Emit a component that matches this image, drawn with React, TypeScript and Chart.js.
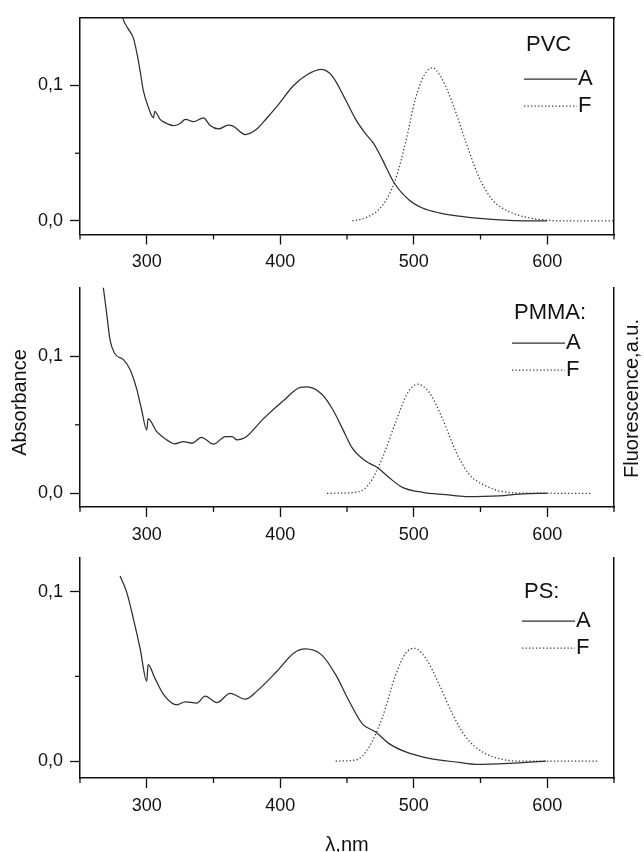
import React, { useEffect, useRef } from 'react';
import { Chart, registerables } from 'chart.js';

Chart.register(...registerables);

// ---------------- data ----------------
const xTickValues = [300, 400, 500, 600];
const xMinorTicks = [250, 350, 450, 550, 650];
const yTickValues = [0, 0.1];
const yMinorTicks = [0.05];

// PVC
const pvcAbsWl = [279, 282, 286, 290, 293, 295, 297.5, 301, 305, 306, 310, 315, 320, 325, 329, 335, 342.5, 347.5, 353.7, 361, 365, 373.7, 382.5, 390, 397.5, 410, 420, 431, 439, 449, 456.5, 464, 470, 476.5, 485, 496.5, 506.5, 519, 534, 551.5, 571.5, 600];
const pvcAbs = [0.165, 0.15, 0.142, 0.135, 0.122, 0.111, 0.096, 0.0846, 0.0762, 0.081, 0.075, 0.072, 0.0703, 0.072, 0.075, 0.0733, 0.0762, 0.0704, 0.0679, 0.0707, 0.0698, 0.0638, 0.0679, 0.076, 0.0846, 0.1, 0.108, 0.112, 0.107, 0.0893, 0.075, 0.0643, 0.0571, 0.0453, 0.0286, 0.0155, 0.0096, 0.006, 0.0036, 0.0017, 0.0005, 0.0];
const pvcFlWl = [454, 464, 476, 486, 494, 501, 508, 514, 520, 529, 539, 549, 559, 571, 586, 601, 615, 650];
const pvcFl = [0, 0.0024, 0.0107, 0.0298, 0.0584, 0.0893, 0.108, 0.113, 0.107, 0.087, 0.0584, 0.032, 0.0155, 0.0071, 0.0024, 0.0005, 0, 0];

// PMMA
const pmmaAbsWl = [266, 267.5, 270, 272.5, 276, 282.5, 287.5, 292.5, 296, 300, 301, 307.5, 315, 321, 327.5, 334, 341, 350, 359, 364, 367.5, 374, 387.5, 402.5, 415, 420, 431, 439, 446.5, 454, 464, 473, 481.5, 491.5, 506.5, 524, 539, 564, 581.5, 600];
const pmmaAbs = [0.16, 0.15, 0.131, 0.112, 0.102, 0.0976, 0.0904, 0.076, 0.0617, 0.0462, 0.0545, 0.045, 0.039, 0.0361, 0.0378, 0.0366, 0.0409, 0.0359, 0.0414, 0.0414, 0.039, 0.0409, 0.0545, 0.0677, 0.0773, 0.0777, 0.0725, 0.0617, 0.0474, 0.033, 0.0235, 0.0187, 0.0115, 0.0043, 0.0007, -0.001, -0.0024, -0.0019, -0.0005, 0];
const pmmaFlWl = [435, 456.5, 466.5, 476.5, 486.5, 495, 502.7, 511.5, 521.5, 531.5, 541.5, 556.5, 565, 580, 633];
const pmmaFl = [0, 0.0007, 0.0067, 0.0258, 0.052, 0.0725, 0.0796, 0.0737, 0.0545, 0.0306, 0.0139, 0.0043, 0.0015, 0.0002, 0];

// PS
const psAbsWl = [280, 285, 290, 295, 300, 301, 306, 312.5, 322.5, 329, 337.5, 343.7, 352.5, 362.5, 373.7, 382.5, 397.5, 410, 418.7, 431, 441.5, 451.5, 461.5, 471.5, 481.5, 494, 511.5, 534, 546.5, 571.5, 599];
const psAbs = [0.1093, 0.0996, 0.084, 0.0666, 0.0472, 0.0569, 0.0491, 0.0394, 0.0332, 0.035, 0.0342, 0.0384, 0.0345, 0.04, 0.0365, 0.0413, 0.053, 0.0637, 0.0662, 0.0627, 0.051, 0.0355, 0.022, 0.0171, 0.0103, 0.0054, 0.0016, -0.0008, -0.0019, -0.0013, 0];
const psFlWl = [441.5, 456.5, 466.5, 476.5, 486.5, 494, 500.3, 509, 519, 529, 539, 551.5, 569, 580, 639];
const psFl = [0, 0.0006, 0.0083, 0.0258, 0.051, 0.0637, 0.0666, 0.0607, 0.0453, 0.0278, 0.0142, 0.0054, 0.0006, 0, 0];

// ---------------- styles ----------------
const FONT = '"Liberation Sans", Arial, Helvetica, sans-serif';
const INK = '#111111';
const CURVE = '#2e2e2e';
const DOT = '#3a3a3a';

const toPoints = (xs: number[], ys: number[]) => xs.map((x, i) => ({ x, y: ys[i] }));

const minorTicksPlugin = {
  id: 'minorTicks',
  afterDraw(chart: any) {
    const { ctx } = chart;
    const xs = chart.scales.x;
    const ys = chart.scales.y;
    ctx.save();
    ctx.strokeStyle = INK;
    ctx.lineWidth = 1.3;
    for (const v of xMinorTicks) {
      const px = xs.getPixelForValue(v);
      ctx.beginPath();
      ctx.moveTo(px, xs.top);
      ctx.lineTo(px, xs.top + 5);
      ctx.stroke();
    }
    for (const v of yMinorTicks) {
      const py = ys.getPixelForValue(v);
      ctx.beginPath();
      ctx.moveTo(ys.right, py);
      ctx.lineTo(ys.right - 5, py);
      ctx.stroke();
    }
    ctx.restore();
  },
};

const panelLegendPlugin = {
  id: 'panelLegend',
  afterDraw(chart: any, _args: any, opts: any) {
    if (!opts || !opts.title) return;
    const { ctx } = chart;
    ctx.save();
    ctx.font = `22px ${FONT}`;
    ctx.fillStyle = INK;
    ctx.textBaseline = 'middle';
    ctx.textAlign = 'left';
    ctx.fillText(opts.title, opts.x + 2, opts.titleY);
    chart.data.datasets.forEach((ds: any, i: number) => {
      const y = opts.rowYs[i];
      ctx.strokeStyle = ds.borderColor;
      ctx.lineWidth = ds.borderWidth;
      ctx.setLineDash(ds.borderDash || []);
      ctx.beginPath();
      ctx.moveTo(opts.x, y);
      ctx.lineTo(opts.x + opts.lineLen, y);
      ctx.stroke();
      ctx.setLineDash([]);
      ctx.fillText(ds.label, opts.x + opts.lineLen + 1, y);
    });
    ctx.restore();
  },
};

const sideLabelsPlugin = {
  id: 'sideLabels',
  afterDraw(chart: any, _args: any, opts: any) {
    if (!opts || !opts.items) return;
    const { ctx } = chart;
    ctx.save();
    ctx.font = `20px ${FONT}`;
    ctx.fillStyle = INK;
    ctx.textAlign = 'center';
    ctx.textBaseline = 'middle';
    for (const it of opts.items) {
      ctx.save();
      ctx.translate(it.x, it.y);
      ctx.rotate(-Math.PI / 2);
      ctx.fillText(it.text, 0, 0);
      ctx.restore();
    }
    ctx.restore();
  },
};

type PanelProps = {
  top: number;
  height: number;
  padTop: number;
  xAxisH: number;
  yMax: number;
  absWl: number[];
  abs: number[];
  flWl: number[];
  fl: number[];
  legend: any;
  frameTop?: boolean;
  xTitle?: string;
  sideLabels?: any[];
};

function Panel(p: PanelProps) {
  const ref = useRef<HTMLCanvasElement | null>(null);
  useEffect(() => {
    if (!ref.current) return;
    const axisBorder = { display: true, color: INK, width: 1.5 };
    const scales: any = {
      x: {
        type: 'linear',
        position: 'bottom',
        min: 250,
        max: 650,
        afterBuildTicks: (s: any) => {
          s.ticks = xTickValues.map((v) => ({ value: v }));
        },
        afterFit: (s: any) => {
          s.height = p.xAxisH;
        },
        ticks: {
          autoSkip: false,
          maxRotation: 0,
          padding: 7,
          color: INK,
          font: { family: FONT, size: 18 },
          callback: (v: any) => String(v),
        },
        grid: { display: true, drawOnChartArea: false, drawTicks: true, tickLength: 10, tickColor: INK, tickWidth: 1.3 },
        border: axisBorder,
        title: p.xTitle
          ? { display: true, text: p.xTitle, color: INK, font: { family: FONT, size: 20, lineHeight: 0.7 }, padding: { top: 0, bottom: 0 } }
          : { display: false },
      },
      y: {
        type: 'linear',
        position: 'left',
        min: -0.01,
        max: p.yMax,
        afterBuildTicks: (s: any) => {
          s.ticks = yTickValues.map((v) => ({ value: v }));
        },
        afterFit: (s: any) => {
          s.width = 80;
        },
        ticks: {
          padding: 7,
          color: INK,
          font: { family: FONT, size: 18 },
          callback: (v: any) => Number(v).toFixed(1).replace('.', ','),
        },
        grid: { display: true, drawOnChartArea: false, drawTicks: true, tickLength: 10, tickColor: INK, tickWidth: 1.3 },
        border: axisBorder,
      },
      yRight: {
        type: 'linear',
        position: 'right',
        min: -0.01,
        max: p.yMax,
        afterFit: (s: any) => {
          s.width = 0;
        },
        ticks: { display: false },
        grid: { display: false },
        border: axisBorder,
      },
    };
    if (p.frameTop) {
      scales.xTop = {
        type: 'linear',
        position: 'top',
        min: 250,
        max: 650,
        afterFit: (s: any) => {
          s.height = 0;
        },
        ticks: { display: false },
        grid: { display: false },
        border: axisBorder,
      };
    }
    const chart = new Chart(ref.current, {
      type: 'line',
      data: {
        datasets: [
          {
            label: 'A',
            data: toPoints(p.absWl, p.abs),
            borderColor: CURVE,
            borderWidth: 1.25,
            pointRadius: 0,
            cubicInterpolationMode: 'monotone',
            fill: false,
          },
          {
            label: 'F',
            data: toPoints(p.flWl, p.fl),
            borderColor: DOT,
            borderWidth: 1.25,
            borderDash: [1.3, 2.2],
            pointRadius: 0,
            cubicInterpolationMode: 'monotone',
            fill: false,
          },
        ],
      } as any,
      options: {
        responsive: false,
        animation: false,
        devicePixelRatio: 1,
        layout: { padding: { top: p.padTop, right: 30, left: 0, bottom: 0 } },
        scales,
        plugins: {
          legend: { display: false },
          tooltip: { enabled: false },
          panelLegend: p.legend,
          sideLabels: { items: p.sideLabels || [] },
        } as any,
      } as any,
      plugins: [minorTicksPlugin, panelLegendPlugin, sideLabelsPlugin] as any,
    });
    return () => chart.destroy();
  }, []);
  return (
    <div style={{ position: 'absolute', left: 0, top: p.top, width: 644, height: p.height }}>
      <canvas ref={ref} width={644} height={p.height} style={{ display: 'block' }} />
    </div>
  );
}

export default function App() {
  return (
    <div style={{ position: 'absolute', left: 0, top: 0, width: 644, height: 852, background: '#fff', overflow: 'hidden' }}>
      <Panel
        top={0}
        height={270}
        padTop={12}
        xAxisH={35.5}
        yMax={0.15}
        absWl={pvcAbsWl}
        abs={pvcAbs}
        flWl={pvcFlWl}
        fl={pvcFl}
        frameTop
        legend={{ title: 'PVC', x: 524, lineLen: 53, titleY: 45, rowYs: [79, 106] }}
      />
      <Panel
        top={270}
        height={270}
        padTop={13}
        xAxisH={33}
        yMax={0.15}
        absWl={pmmaAbsWl}
        abs={pmmaAbs}
        flWl={pmmaFlWl}
        fl={pmmaFl}
        legend={{ title: 'PMMA:', x: 512, lineLen: 53, titleY: 43, rowYs: [73, 100] }}
        sideLabels={[
          { text: 'Absorbance', x: 20, y: 132.5 },
          { text: 'Fluorescence,a.u.', x: 632.5, y: 128.5 },
        ]}
      />
      <Panel
        top={540}
        height={312}
        padTop={15}
        xAxisH={74}
        yMax={0.12}
        absWl={psAbsWl}
        abs={psAbs}
        flWl={psFlWl}
        fl={psFl}
        xTitle="λ,nm"
        legend={{ title: 'PS:', x: 522, lineLen: 53, titleY: 52, rowYs: [81, 108] }}
      />
    </div>
  );
}
